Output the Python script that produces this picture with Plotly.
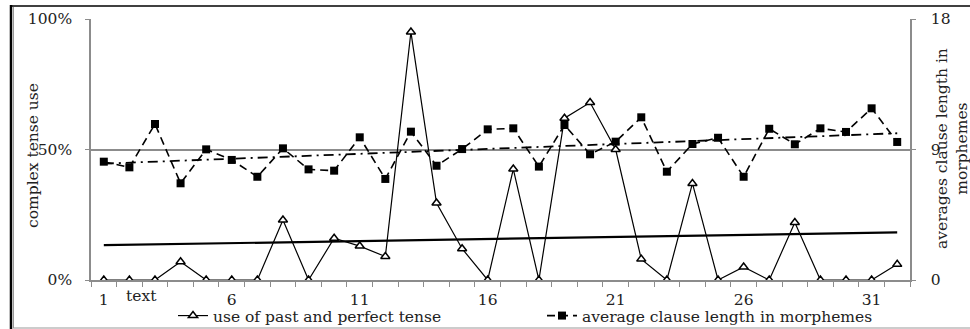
import numpy as np
import plotly.graph_objects as go

# Text number (1..32) for each sample
texts = list(range(1, 33))

# Share of past and perfect tense forms, in percent (left axis)
past_perfect_pct = [0, 0, 0, 7, 0, 0, 0, 23, 0, 16, 13, 9, 95, 29.5, 12, 0,
                    42.5, 0, 62, 68, 50, 8, 0, 37, 0, 5, 0, 22, 0, 0, 0, 6]

# Average clause length in morphemes (right axis)
clause_len = [8.16, 7.77, 10.76, 6.67, 9.01, 8.28, 7.12, 9.08, 7.63, 7.54, 9.84,
              6.97, 10.23, 7.88, 9.03, 10.39, 10.46, 7.82, 10.69, 8.67, 9.54,
              11.22, 7.47, 9.38, 9.81, 7.12, 10.43, 9.36, 10.46, 10.21, 11.84, 9.52]

x_tick_vals = [1, 6, 11, 16, 21, 26, 31]
x_tick_text = ["1", "6", "11", "16", "21", "26", "31"]

# Linear trend lines fitted to each series
x = np.array(texts, dtype=float)
k1, b1 = np.polyfit(x, past_perfect_pct, 1)
k2, b2 = np.polyfit(x, clause_len, 1)
trend1 = k1 * x + b1
trend2 = k2 * x + b2

W, H = 970, 329
L, R, T, B = 91, 60, 19, 49
PW, PH = W - L - R, H - T - B


def px_x(px):
    return (px - L) / PW


def px_y(py):
    return (H - B - py) / PH


FONT = "DejaVu Serif"
FS = 15.5
GRAY = "#8c8c8c"
TXT = "#222"

fig = go.Figure()

fig.add_trace(go.Scatter(
    x=texts, y=past_perfect_pct, name="use of past and perfect tense",
    mode="lines+markers", yaxis="y",
    line=dict(color="black", width=1.2),
    marker=dict(symbol="triangle-up", size=8, color="white",
                line=dict(color="black", width=1.5)),
))
fig.add_trace(go.Scatter(
    x=texts, y=clause_len, name="average clause length in morphemes",
    mode="lines+markers", yaxis="y2",
    line=dict(color="black", width=1.6, dash="8px,5px"),
    marker=dict(symbol="square", size=8, color="black"),
))
fig.add_trace(go.Scatter(
    x=texts, y=trend1, mode="lines", yaxis="y", showlegend=False,
    line=dict(color="black", width=2.2), hoverinfo="skip",
))
fig.add_trace(go.Scatter(
    x=texts, y=trend2, mode="lines", yaxis="y2", showlegend=False,
    line=dict(color="black", width=1.8, dash="10px,5px,2px,5px"), hoverinfo="skip",
))

fig.update_layout(
    width=W, height=H,
    margin=dict(l=L, r=R, t=T, b=B, pad=0, autoexpand=False),
    paper_bgcolor="white", plot_bgcolor="white",
    font=dict(family=FONT, size=FS, color=TXT),
    showlegend=True,
    legend=dict(orientation="h", xref="container", yref="container",
                x=173 / W, y=1 - 316 / H,
                xanchor="left", yanchor="middle",
                font=dict(family=FONT, size=FS, color=TXT),
                entrywidth=324, bgcolor="rgba(0,0,0,0)"),
    xaxis=dict(
        range=[0.5, 32.5], tickmode="array", tickvals=x_tick_vals,
        ticktext=x_tick_text, ticks="", showgrid=False, zeroline=False,
        showline=True, linecolor=GRAY, linewidth=1.5, automargin=False,
        ticklabelstandoff=5,
        tickfont=dict(family=FONT, size=FS, color=TXT),
        minor=dict(tick0=0.5, dtick=1, ticks="outside", ticklen=5,
                   tickcolor=GRAY, tickwidth=1.2, showgrid=False),
    ),
    yaxis=dict(
        range=[0, 100], tickmode="array", tickvals=[0, 50, 100],
        ticktext=["0%", "50%", "100%"], ticks="outside", ticklen=4,
        tickcolor=GRAY, tickwidth=1.2, showgrid=True, gridcolor=GRAY,
        gridwidth=1.5, zeroline=False, showline=True, linecolor=GRAY,
        linewidth=1.5, ticklabelstandoff=10, automargin=False,
        tickfont=dict(family=FONT, size=FS, color=TXT),
    ),
    yaxis2=dict(
        range=[0, 18], tickmode="array", tickvals=[0, 9, 18],
        overlaying="y", side="right", ticks="outside", ticklen=4,
        tickcolor=GRAY, tickwidth=1.2, showgrid=False, zeroline=False,
        showline=True, linecolor=GRAY, linewidth=1.5, ticklabelstandoff=12,
        automargin=False,
        tickfont=dict(family=FONT, size=FS, color=TXT),
    ),
)

# Axis titles and the category label
ann_font = dict(family=FONT, size=FS, color=TXT)
fig.add_annotation(text="complex tense use", xref="paper", yref="paper",
                   x=px_x(33), y=px_y(156), textangle=-90, showarrow=False,
                   xanchor="center", yanchor="middle", font=ann_font)
fig.add_annotation(text="averages clause length in<br>morphemes", xref="paper",
                   yref="paper", x=px_x(952), y=px_y(149), textangle=-90,
                   showarrow=False, xanchor="center", yanchor="middle",
                   font=ann_font)
fig.add_annotation(text="text", xref="paper", yref="paper",
                   x=px_x(141), y=px_y(296), showarrow=False,
                   xanchor="center", yanchor="middle", font=ann_font)

# Frame around the figure
fig.add_shape(type="line", xref="paper", yref="paper",
              x0=px_x(11), x1=px_x(11), y0=px_y(5), y1=px_y(330),
              line=dict(color="black", width=2.5))
fig.add_shape(type="line", xref="paper", yref="paper",
              x0=px_x(13.5), x1=px_x(13.5), y0=px_y(7), y1=px_y(328),
              line=dict(color="#999", width=1))
fig.add_shape(type="line", xref="paper", yref="paper",
              x0=px_x(10), x1=px_x(972), y0=px_y(6), y1=px_y(6),
              line=dict(color="black", width=1.6))
fig.add_shape(type="line", xref="paper", yref="paper",
              x0=px_x(13), x1=px_x(972), y0=px_y(328), y1=px_y(328),
              line=dict(color="#999", width=1))

fig.write_html("out.html")
